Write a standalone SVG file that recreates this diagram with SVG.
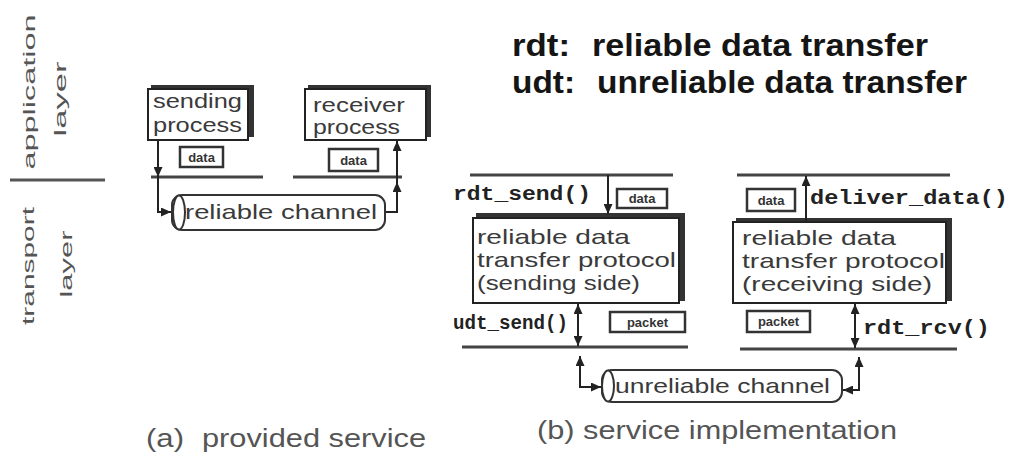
<svg xmlns="http://www.w3.org/2000/svg" width="1011" height="455" viewBox="0 0 1011 455">
<defs>
<marker id="ah" markerUnits="userSpaceOnUse" markerWidth="10" markerHeight="9" refX="10" refY="4.5" orient="auto-start-reverse" viewBox="0 0 10 9">
<path d="M0,0 L10,4.5 L0,9 z" fill="#222"/>
</marker>
<style>
.g{font-family:"Liberation Sans",Arial,sans-serif;fill:#3a3a3a;font-size:21px}
.v{font-family:"Liberation Sans",Arial,sans-serif;fill:#555;font-size:17px}
.cap{font-family:"Liberation Sans",Arial,sans-serif;fill:#555;font-size:25px}
.m{font-family:"Liberation Mono","Courier New",monospace;font-weight:bold;fill:#222;font-size:20px}
.h{font-family:"Liberation Sans",Arial,sans-serif;font-weight:bold;fill:#151515;font-size:32px}
.s{font-family:"Liberation Sans",Arial,sans-serif;fill:#333;font-size:13px;font-weight:bold}
.lay{stroke:#444;stroke-width:3;fill:none}
.box{fill:#fff;stroke:#222;stroke-width:2}
.sh{fill:#333}
.tag{fill:#fff;stroke:#333;stroke-width:2.5}
.cyl{fill:#fff;stroke:#333;stroke-width:2}
.c{fill:none;stroke:#222;stroke-width:2}
</style>
</defs>
<rect width="1011" height="455" fill="#fff"/>

<g id="layer-labels">
<text class="v" text-anchor="middle" transform="translate(35,92) rotate(-90)" textLength="155" lengthAdjust="spacingAndGlyphs">application</text>
<text class="v" text-anchor="middle" transform="translate(66,99) rotate(-90)" textLength="75" lengthAdjust="spacingAndGlyphs">layer</text>
<line x1="10" y1="180" x2="105" y2="180" stroke="#555" stroke-width="3"/>
<text class="v" text-anchor="middle" transform="translate(34,266) rotate(-90)" textLength="118" lengthAdjust="spacingAndGlyphs">transport</text>
<text class="v" text-anchor="middle" transform="translate(72,264) rotate(-90)" textLength="67" lengthAdjust="spacingAndGlyphs">layer</text>
</g>

<g id="header">
<text class="h" x="512" y="56" textLength="58" lengthAdjust="spacingAndGlyphs">rdt:</text>
<text class="h" x="592" y="56" textLength="336" lengthAdjust="spacingAndGlyphs">reliable data transfer</text>
<text class="h" x="512" y="93" textLength="63" lengthAdjust="spacingAndGlyphs">udt:</text>
<text class="h" x="597" y="93" textLength="370" lengthAdjust="spacingAndGlyphs">unreliable data transfer</text>
</g>

<g id="layer-lines">
<line class="lay" x1="151" y1="177" x2="263" y2="177"/>
<line class="lay" x1="293" y1="177" x2="402" y2="177"/>
<line class="lay" x1="470" y1="175" x2="673" y2="175"/>
<line class="lay" x1="462" y1="347" x2="688" y2="347"/>
<line class="lay" x1="737" y1="175" x2="950" y2="175"/>
<line class="lay" x1="740" y1="349" x2="957" y2="349"/>
</g>

<g id="sending-process">
<rect class="sh" x="151" y="85" width="103" height="52"/>
<rect class="box" x="148" y="89" width="100" height="51"/>
<text class="g" x="153" y="108" textLength="89" lengthAdjust="spacingAndGlyphs">sending</text>
<text class="g" x="153" y="132" textLength="89" lengthAdjust="spacingAndGlyphs">process</text>
</g>

<g id="receiver-process">
<rect class="sh" x="308" y="85" width="123" height="52"/>
<rect class="box" x="305" y="89" width="121" height="51"/>
<text class="g" x="313" y="112" textLength="92" lengthAdjust="spacingAndGlyphs">receiver</text>
<text class="g" x="313" y="134" textLength="87" lengthAdjust="spacingAndGlyphs">process</text>
</g>

<g id="data-a-send">
<rect class="tag" x="180" y="147" width="43" height="20"/>
<text class="s" x="201.5" y="162" text-anchor="middle">data</text>
</g>
<g id="data-a-recv">
<rect class="tag" x="329" y="149" width="49" height="22"/>
<text class="s" x="353.5" y="165" text-anchor="middle">data</text>
</g>

<g id="reliable-channel">
<rect class="cyl" x="172" y="195" width="213" height="35" rx="10"/>
<ellipse class="cyl" cx="179" cy="212.5" rx="6" ry="17"/>
<text class="g" x="185" y="219" textLength="192" lengthAdjust="spacingAndGlyphs">reliable channel</text>
</g>

<g id="sending-protocol">
<rect class="sh" x="476" y="213" width="209" height="88"/>
<rect class="box" x="473" y="218" width="206" height="85"/>
<text class="g" x="477" y="244" textLength="153" lengthAdjust="spacingAndGlyphs">reliable data</text>
<text class="g" x="477" y="267" textLength="199" lengthAdjust="spacingAndGlyphs">transfer protocol</text>
<text class="g" x="477" y="290" textLength="163" lengthAdjust="spacingAndGlyphs">(sending side)</text>
</g>
<g id="rdt-send-label"><text class="m" x="453" y="200" textLength="138" lengthAdjust="spacingAndGlyphs">rdt_send()</text></g>
<g id="data-b-send">
<rect class="tag" x="617" y="189" width="50" height="19"/>
<text class="s" x="642" y="203" text-anchor="middle">data</text>
</g>
<g id="udt-send-label"><text class="m" x="453" y="329" textLength="115" lengthAdjust="spacingAndGlyphs">udt_send()</text></g>
<g id="packet-send">
<rect class="tag" x="610" y="312" width="75" height="20"/>
<text class="s" x="647.5" y="327" text-anchor="middle">packet</text>
</g>

<g id="receiving-protocol">
<rect class="sh" x="736" y="218" width="216" height="83"/>
<rect class="box" x="733" y="222" width="213" height="81"/>
<text class="g" x="742" y="245" textLength="154" lengthAdjust="spacingAndGlyphs">reliable data</text>
<text class="g" x="742" y="268" textLength="203" lengthAdjust="spacingAndGlyphs">transfer protocol</text>
<text class="g" x="742" y="291" textLength="190" lengthAdjust="spacingAndGlyphs">(receiving side)</text>
</g>
<g id="data-b-recv">
<rect class="tag" x="747" y="189" width="48" height="22"/>
<text class="s" x="771" y="205" text-anchor="middle">data</text>
</g>
<g id="deliver-data-label"><text class="m" x="810" y="204" textLength="198" lengthAdjust="spacingAndGlyphs">deliver_data()</text></g>
<g id="packet-recv">
<rect class="tag" x="747" y="311" width="63" height="21"/>
<text class="s" x="778.5" y="326" text-anchor="middle">packet</text>
</g>
<g id="rdt-rcv-label"><text class="m" x="863" y="334" textLength="127" lengthAdjust="spacingAndGlyphs">rdt_rcv()</text></g>

<g id="unreliable-channel">
<rect class="cyl" x="602" y="370" width="240" height="32" rx="10"/>
<ellipse class="cyl" cx="608" cy="386" rx="6" ry="15.5"/>
<text class="g" x="615" y="393" textLength="215" lengthAdjust="spacingAndGlyphs">unreliable channel</text>
</g>

<g id="connectors">
<path class="c" d="M158,140 V212 H171" marker-end="url(#ah)"/>
<path class="c" d="M158,166 V177" marker-end="url(#ah)"/>
<path class="c" d="M386,212 H397 V141" marker-end="url(#ah)"/>
<path class="c" d="M397,194 V182" marker-end="url(#ah)"/>
<path class="c" d="M608,175 V214" marker-end="url(#ah)"/>
<path class="c" d="M578,304 V346" marker-start="url(#ah)" marker-end="url(#ah)"/>
<path class="c" d="M580,356 V387 H601" marker-start="url(#ah)" marker-end="url(#ah)"/>
<path class="c" d="M806,222 V176" marker-end="url(#ah)"/>
<path class="c" d="M855,304 V348" marker-start="url(#ah)" marker-end="url(#ah)"/>
<path class="c" d="M859,357 V390 H843" marker-start="url(#ah)" marker-end="url(#ah)"/>
</g>

<g id="captions">
<text class="cap" x="146" y="447" textLength="38" lengthAdjust="spacingAndGlyphs">(a)</text>
<text class="cap" x="202" y="447" textLength="224" lengthAdjust="spacingAndGlyphs">provided service</text>
<text class="cap" x="537" y="439" textLength="360" lengthAdjust="spacingAndGlyphs">(b) service implementation</text>
</g>
</svg>
